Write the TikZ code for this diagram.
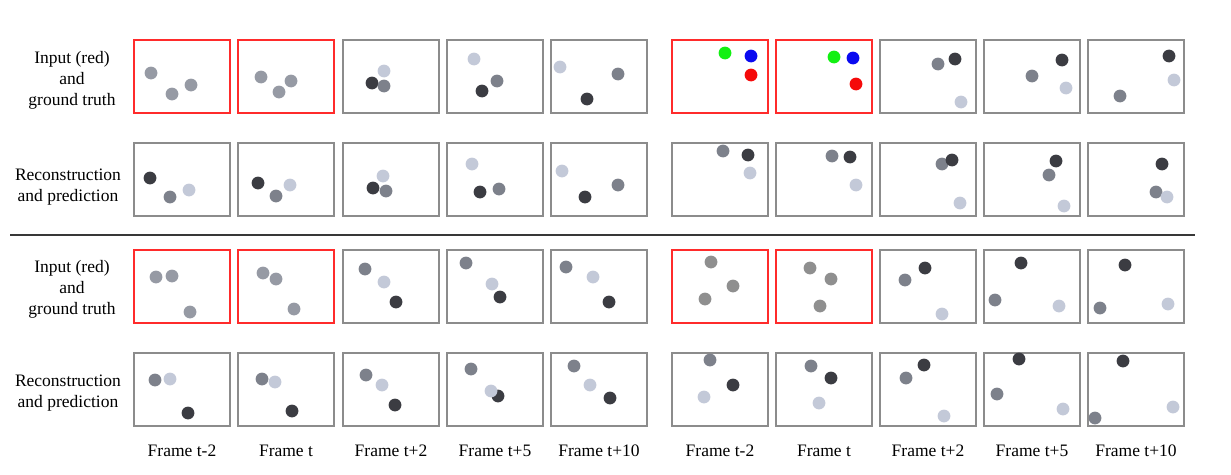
\documentclass[tikz,border=0pt]{standalone}
\usepackage{fontspec}
\setmainfont{Liberation Serif}
\usepackage{tikz}
\usetikzlibrary{positioning}
\definecolor{fgray}{HTML}{8C8C8C}
\definecolor{fred}{HTML}{FF2B2B}
\definecolor{bdark}{HTML}{3B3C42}
\definecolor{bmid}{HTML}{7D818B}
\definecolor{blight}{HTML}{C3C9D8}
\definecolor{bin}{HTML}{969AA4}
\definecolor{bgray}{HTML}{8F8F8F}
\definecolor{bgreen}{HTML}{12F012}
\definecolor{bblue}{HTML}{0A0AF0}
\definecolor{bred}{HTML}{F50A0A}
\newcommand{\ball}[3]{\fill[#1] (#2,#3) circle (6.4pt);}

\begin{document}
\begin{tikzpicture}[x=1pt,y=-1pt,
  frm/.style={draw=fgray,line width=1.5pt,minimum width=96pt,minimum height=73pt,inner sep=0pt},
  lbl/.style={font=\fontsize{17.5}{21}\selectfont,inner sep=0pt}]
  \useasboundingbox (0,0) rectangle (1231,474);

  % frames (inputs red)
  \foreach \c/\x/\k in {1/134/1,2/238/1,3/343/0,4/447/0,5/551/0,
                        6/672/1,7/776/1,8/880/0,9/984/0,10/1088/0}{
    \foreach \r/\y/\m in {1/40/1,2/143/0,3/250/1,4/353/0}{
      \pgfmathtruncatemacro{\isin}{\k*\m}
      \ifnum\isin=1 \def\fc{fred}\else\def\fc{fgray}\fi
      \node[frm,draw=\fc] (f\r-\c) at (\x+48,\y+36.5) {};
    }
  }

  \draw[line width=1.6pt,black!78] (10,235) coordinate (sep1) -- (1195,235) coordinate (sep2);

  % row 1
  \ball{bin}{151}{73}\ball{bin}{172}{94}\ball{bin}{191}{85}
  \ball{bin}{261}{77}\ball{bin}{279}{92}\ball{bin}{291}{81}
  \ball{blight}{384}{71}\ball{bdark}{372}{83}\ball{bmid}{384}{86}
  \ball{blight}{474}{59}\ball{bmid}{497}{81}\ball{bdark}{482}{91}
  \ball{blight}{560}{67}\ball{bmid}{618}{74}\ball{bdark}{587}{99}
  \ball{bgreen}{725}{53}\ball{bblue}{751}{56}\ball{bred}{751}{75}
  \ball{bgreen}{834}{57}\ball{bblue}{853}{58}\ball{bred}{856}{84}
  \ball{bmid}{938}{64}\ball{bdark}{955}{59}\ball{blight}{961}{102}
  \ball{bmid}{1032}{76}\ball{bdark}{1062}{60}\ball{blight}{1066}{88}
  \ball{bdark}{1169}{56}\ball{blight}{1174}{80}\ball{bmid}{1120}{96}
  % row 2
  \ball{bdark}{150}{178}\ball{bmid}{170}{197}\ball{blight}{189}{190}
  \ball{bdark}{258}{183}\ball{bmid}{276}{196}\ball{blight}{290}{185}
  \ball{blight}{383}{176}\ball{bdark}{373}{188}\ball{bmid}{386}{191}
  \ball{blight}{472}{164}\ball{bdark}{480}{192}\ball{bmid}{499}{189}
  \ball{blight}{562}{171}\ball{bdark}{585}{197}\ball{bmid}{618}{185}
  \ball{bmid}{723}{151}\ball{bdark}{748}{155}\ball{blight}{750}{173}
  \ball{bmid}{832}{156}\ball{bdark}{850}{157}\ball{blight}{856}{185}
  \ball{bmid}{942}{164}\ball{bdark}{952}{160}\ball{blight}{960}{203}
  \ball{bdark}{1056}{161}\ball{bmid}{1049}{175}\ball{blight}{1064}{206}
  \ball{bdark}{1162}{164}\ball{bmid}{1156}{192}\ball{blight}{1167}{197}
  % row 3
  \ball{bin}{156}{277}\ball{bin}{172}{276}\ball{bin}{190}{312}
  \ball{bin}{263}{273}\ball{bin}{276}{279}\ball{bin}{294}{309}
  \ball{bmid}{365}{269}\ball{blight}{384}{282}\ball{bdark}{396}{302}
  \ball{bmid}{466}{263}\ball{blight}{492}{284}\ball{bdark}{500}{297}
  \ball{bmid}{566}{267}\ball{blight}{593}{277}\ball{bdark}{609}{302}
  \ball{bgray}{711}{262}\ball{bgray}{733}{286}\ball{bgray}{705}{299}
  \ball{bgray}{810}{268}\ball{bgray}{831}{279}\ball{bgray}{820}{306}
  \ball{bmid}{905}{280}\ball{bdark}{925}{268}\ball{blight}{942}{314}
  \ball{bdark}{1021}{263}\ball{bmid}{995}{300}\ball{blight}{1059}{306}
  \ball{bdark}{1125}{265}\ball{bmid}{1100}{308}\ball{blight}{1168}{304}
  % row 4
  \ball{bmid}{155}{380}\ball{blight}{170}{379}\ball{bdark}{188}{413}
  \ball{bmid}{262}{379}\ball{blight}{275}{382}\ball{bdark}{292}{411}
  \ball{bmid}{366}{375}\ball{blight}{382}{385}\ball{bdark}{395}{405}
  \ball{bmid}{471}{369}\ball{bdark}{498}{396}\ball{blight}{491}{391}
  \ball{bmid}{574}{366}\ball{blight}{590}{385}\ball{bdark}{610}{398}
  \ball{bmid}{710}{360}\ball{bdark}{733}{385}\ball{blight}{704}{397}
  \ball{bmid}{811}{366}\ball{bdark}{831}{378}\ball{blight}{819}{403}
  \ball{bmid}{906}{378}\ball{bdark}{924}{365}\ball{blight}{944}{416}
  \ball{bdark}{1019}{359}\ball{bmid}{997}{394}\ball{blight}{1063}{409}
  \ball{bdark}{1123}{361}\ball{bmid}{1095}{418}\ball{blight}{1173}{407}

  % row labels
  \node[lbl,align=center] (gt1)  at (72,80)  {Input (red)\\and\\ground truth};
  \node[lbl,align=center] (rec1) at (68,187) {Reconstruction\\and prediction};
  \node[lbl,align=center] (gt2)  at (72,289) {Input (red)\\and\\ground truth};
  \node[lbl,align=center] (rec2) at (68,393) {Reconstruction\\and prediction};

  % frame labels
  \foreach \c/\t in {1/t-2,2/t,3/t+2,4/t+5,5/t+10,6/t-2,7/t,8/t+2,9/t+5,10/t+10}
    \node[lbl,below=18pt of f4-\c.south] (ft\c) {Frame \t};
\end{tikzpicture}
\end{document}
